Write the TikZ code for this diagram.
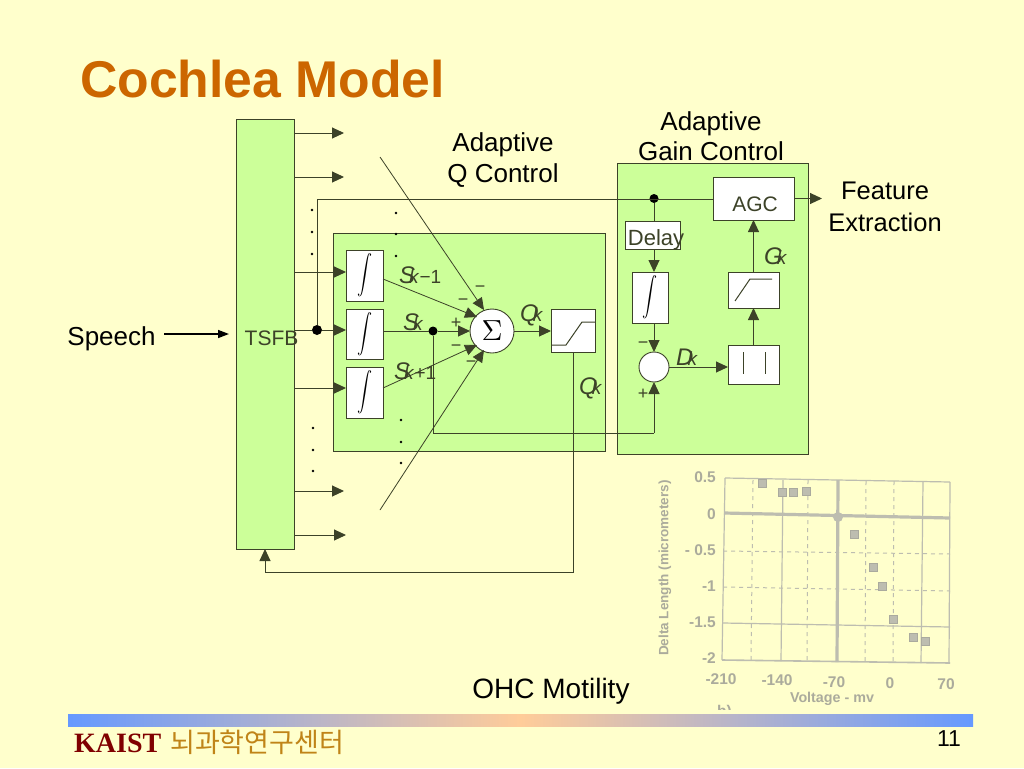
\documentclass[tikz,border=0pt]{standalone}
\usepackage{fontspec}
\setmainfont{Liberation Sans}
\newfontfamily\kaistserif{Liberation Serif}
\newfontfamily\cjkkr{Noto Sans CJK KR}
\usetikzlibrary{arrows.meta}
\definecolor{slidebg}{HTML}{FFFFCC}
\definecolor{panelgreen}{HTML}{CCFF99}
\definecolor{titleorange}{HTML}{CC6600}
\definecolor{inkdark}{HTML}{3C4228}
\definecolor{chartgrey}{HTML}{BDBDB0}
\definecolor{charttext}{HTML}{ABAB9C}
\definecolor{barblue}{HTML}{6699FF}
\definecolor{barpeach}{HTML}{FFCC99}
\definecolor{kaistred}{HTML}{800000}
\definecolor{korgold}{HTML}{C08418}
\newcommand{\fs}[1]{\fontsize{#1}{#1}\selectfont}
\newcommand{\subl}[2]{\textit{#1}\kern-6pt{\fs{19}\textit{k}#2}}
\newcommand{\intglyph}{\scalebox{1.5}[1.95]{$\displaystyle\int$}}
\tikzset{
  x=1pt,y=-1pt,
  panel/.style={draw=inkdark,fill=panelgreen,line width=0.9pt,inner sep=0,outer sep=0},
  wbox/.style={draw=inkdark,fill=white,line width=0.9pt,inner sep=0,outer sep=0},
  wire/.style={draw=inkdark,line width=0.95pt},
  arr/.style={wire,-{Triangle[length=12pt,width=11pt]}},
  blob/.style={circle,fill=black,inner sep=0,minimum size=10pt,outer sep=0},
  dotm/.style={circle,fill=black,inner sep=0,minimum size=2.6pt},
  lab/.style={font=\fs{26},text=black,inner sep=0,align=center},
  symb/.style={font=\fs{24},text=inkdark,inner sep=0},
  sgn/.style={font=\fs{18},text=inkdark,inner sep=0},
  tick/.style={font=\bfseries\fs{15.5},text=charttext,inner sep=0},
  gridthin/.style={draw=chartgrey,line width=1.2pt},
  gridthick/.style={draw=chartgrey,line width=3.2pt},
  griddot/.style={draw=chartgrey,line width=1pt,dash pattern=on 4pt off 4pt},
  mk/.style={draw=chartgrey!90!black,fill=chartgrey,minimum size=8pt,inner sep=0},
}
\begin{document}
\begin{tikzpicture}
\useasboundingbox (0,0) rectangle (1024,768);
\fill[slidebg] (0,0) rectangle (1024,768);

% title
\node[anchor=base west,inner sep=0,text=titleorange,font=\bfseries\fs{51.7}] (title) at (80,97) {Cochlea Model};

% panels
\node[panel,minimum width=58pt,minimum height=430pt] (tsfb) at (265,334) {};
\node[inner sep=0,font=\fs{21},text=inkdark] (tsfbtext) at (271.5,338) {TSFB};
\node[panel,minimum width=272pt,minimum height=218pt] (qpanel) at (469,342) {};
\node[panel,minimum width=191pt,minimum height=291pt] (gpanel) at (712.5,308.5) {};

% integrators
\node[wbox,minimum width=37pt,minimum height=51pt] (intA) at (364.5,275.5) {\intglyph\hspace{19pt}};
\node[wbox,minimum width=37pt,minimum height=50pt] (intB) at (364.5,334) {\intglyph\hspace{19pt}};
\node[wbox,minimum width=37pt,minimum height=51pt] (intC) at (364.5,392.5) {\intglyph\hspace{19pt}};
\node[wbox,minimum width=36pt,minimum height=51pt] (intD) at (650,297.5) {\intglyph\hspace{6pt}};

% summing circle and limiter
\node[wbox,circle,minimum size=44pt] (sum) at (492,331) {\scalebox{2.9}{$\Sigma$}};
\node[wbox,minimum width=44pt,minimum height=43pt] (lim) at (573,330.5) {};
\draw[inkdark,line width=1pt] (lim.west|-0,345) -- (566,345) -- (582,322) -- (lim.east|-0,322);

% gain path boxes
\node[wbox,minimum width=81pt,minimum height=43pt] (agc) at (753.5,198.5) {};
\node[inner sep=0,font=\fs{21},text=inkdark] (agctext) at (755,204) {AGC};
\node[wbox,minimum width=55pt,minimum height=28pt] (delay) at (652.5,235) {};
\node[inner sep=0,font=\fs{22},text=inkdark] (delaytext) at (656,240) {Delay};
\node[wbox,circle,minimum size=30pt] (diff) at (654,367) {};
\node[wbox,minimum width=51pt,minimum height=39pt] (absbox) at (753.5,364.5) {};
\draw[inkdark,line width=1pt] (743,352) -- (743,374) (765,352) -- (765,374);
\node[wbox,minimum width=51pt,minimum height=36pt] (ramp) at (753.5,290) {};
\draw[inkdark,line width=1pt] (735,301) -- (750,279) -- (772,279);

% junctions
\node[blob] (jA) at (317,330) {};
\node[blob,minimum size=9pt] (jB) at (433,331) {};
\node[blob,minimum size=9pt] (jC) at (654,198.5) {};

% free ends
\coordinate (tapA) at (294,133);   \coordinate (endA) at (344,133);
\coordinate (tapB) at (294,177);   \coordinate (endB) at (344,177);
\coordinate (tapC) at (294,272);
\coordinate (tapE) at (294,388);
\coordinate (tapF) at (294,491);   \coordinate (endF) at (344,491);
\coordinate (tapG) at (294,535);   \coordinate (endG) at (346,535);
\coordinate (diagTop) at (380,157); \coordinate (diagTopEnd) at (484,310);
\coordinate (diagBot) at (380,510); \coordinate (diagBotEnd) at (484,350);
\coordinate (outA) at (383,279);   \coordinate (inA) at (477,317);
\coordinate (outC) at (383,388);   \coordinate (inC) at (477,345);
\coordinate (corner1) at (317,199);
\coordinate (corner2) at (433,433);
\coordinate (corner3) at (654,433);
\coordinate (corner4) at (573,572);
\coordinate (corner5) at (265,572);
\coordinate (outG) at (822,198.5);

% connectors
\draw[arr] (tapA) -- (endA);
\draw[arr] (tapB) -- (endB);
\draw[arr] (tapC) -- (intA.west|-tapC);
\draw[arr] (jA) -- (intB.west|-jA);
\draw[wire] (tsfb.east|-jA) -- (jA);
\draw[arr] (tapE) -- (intC.west|-tapE);
\draw[arr] (tapF) -- (endF);
\draw[arr] (tapG) -- (endG);
\draw[wire] (jA) -- (corner1) -- (agc.west|-corner1);
\draw[wire] (intB.east|-jB) -- (jB);
\draw[arr] (jB) -- (sum.west);
\draw[arr] (sum.east) -- (lim.west|-sum);
\draw[arr,line width=0.8pt] (outA) -- (inA);
\draw[arr,line width=0.8pt] (outC) -- (inC);
\draw[arr,line width=0.8pt] (diagTop) -- (diagTopEnd);
\draw[arr,line width=0.8pt] (diagBot) -- (diagBotEnd);
\draw[wire] (jB) -- (corner2) -- (corner3);
\draw[arr] (corner3) -- (diff.south);
\draw[arr] (lim.south) -- (corner4) -- (corner5) -- (tsfb.south-|corner5);
\draw[wire] (jC) -- (delay.north-|jC);
\draw[arr] (delay.south-|jC) -- (intD.north-|jC);
\draw[arr] (intD.south-|jC) -- (diff.north);
\draw[arr] (diff.east) -- (absbox.west|-diff);
\draw[arr] (absbox.north) -- (ramp.south);
\draw[arr] (ramp.north) -- (agc.south);
\draw[arr] (agc.east|-outG) -- (outG);

% dots
\foreach \px/\py [count=\i] in {312/210,312/232,312/254,396/213,396/234,396/256,313/428,313/450,313/471,401/420,401/442,401/463}
  \node[dotm] (dot\i) at (\px,\py) {};

% main labels
\node[lab] (speech) at (111.5,339) {Speech};
\coordinate (speechEnd) at (229,334);
\draw[draw=black,line width=1.5pt,-{Triangle[length=11pt,width=8pt]}] (164,334) -- (speechEnd);
\node[lab] (qctl) at (503,160) {Adaptive\\[5pt]Q Control};
\node[lab] (gctl) at (711,136.5) {Adaptive\\[4pt]Gain Control};
\node[lab,font=\fs{25.5}] (feat) at (885,207) {Feature\\[6pt]Extraction};
\node[lab,font=\fs{28}] (ohc) at (551,691) {OHC Motility};

% symbols
\node[symb,anchor=west] (s1) at (399,275) {\subl{S}{−1}};
\node[symb,anchor=west] (s2) at (403,322) {\subl{S}{}};
\node[symb,anchor=west] (s3) at (394,371) {\subl{S}{+1}};
\node[symb,anchor=west] (sq1) at (520,315) {\subl{Q}{}};
\node[symb,anchor=west] (sq2) at (579,388) {\subl{Q}{}};
\node[symb,anchor=west] (sd) at (676,357) {\subl{D}{}};
\node[symb,anchor=west] (sg) at (764,256) {\subl{G}{}};
\node[sgn] (m1) at (480,289) {−};
\node[sgn] (m2) at (463,302) {−};
\node[sgn] (p1) at (456,323) {+};
\node[sgn] (m3) at (456,348) {−};
\node[sgn] (m4) at (471,364) {−};
\node[sgn] (m5) at (643,345) {−};
\node[sgn] (p2) at (643,394) {+};

% chart
\draw[griddot] (753,480) -- (751,661);
\draw[griddot] (808,480) -- (807,661);
\draw[griddot] (866,481) -- (865,662);
\draw[griddot] (894,481) -- (893,662);
\draw[griddot] (723,551) -- (950,554);
\draw[griddot] (723,587) -- (950,591);
\draw[gridthin] (783,480) -- (781,661);
\draw[gridthin] (923,481) -- (921,663);
\draw[gridthin] (725,478) -- (722,660);
\draw[gridthin] (950,482) -- (949,663);
\draw[gridthin] (725,478) -- (950,482);
\draw[gridthin] (723,623) -- (950,627);
\draw[gridthin,line width=1.6pt] (722,660) -- (950,663);
\draw[gridthick] (838,480) -- (837,662);
\draw[gridthick] (724,513) -- (950,518);
\node[circle,fill=chartgrey,inner sep=0,minimum size=10pt] (origin) at (838,517) {};
\foreach \px/\py [count=\i] in {762/483,782/492,793/492,806/491,854/534,873/567,882/586,893/619,913/637,925/641}
  \node[mk] (pt\i) at (\px,\py) {};
\foreach \ty/\tx/\txt [count=\i] in {477/716/0.5,514/716/0,550/716/- 0.5,586/716/-1,622/716/-1.5,658/716/-2}
  \node[tick,anchor=east] (yt\i) at (\tx,\ty) {\txt};
\foreach \tx/\ty/\txt [count=\i] in {721/679/-210,777/680/-140,834/682/-70,890/683/0,946/684/70}
  \node[tick] (xt\i) at (\tx,\ty) {\txt};
\node[tick,font=\bfseries\fs{14.3}] (xlab) at (832,699) {Voltage - mv};
\node[tick,rotate=90,font=\bfseries\fs{13.5}] (ylab) at (665,568) {Delta Length (micrometers)};
\begin{scope}
  \clip (700,695) rectangle (760,709);
  \node[tick,anchor=base west] (blabel) at (717,716) {b)};
\end{scope}

% footer
\shade[left color=barblue,right color=barblue,middle color=barpeach] (68,714) rectangle (973,726);
\node[anchor=base west,inner sep=0,text=kaistred,font=\kaistserif\bfseries\fs{28}] (kaist) at (74,752) {KAIST};
\node[anchor=base west,inner sep=0,font=\cjkkr\fs{27},text=korgold] (kor) at (170,752) {뇌과학연구센터};
\node[inner sep=0,font=\fs{23},text=black] (pagenum) at (949,739) {11};
\end{tikzpicture}
\end{document}
